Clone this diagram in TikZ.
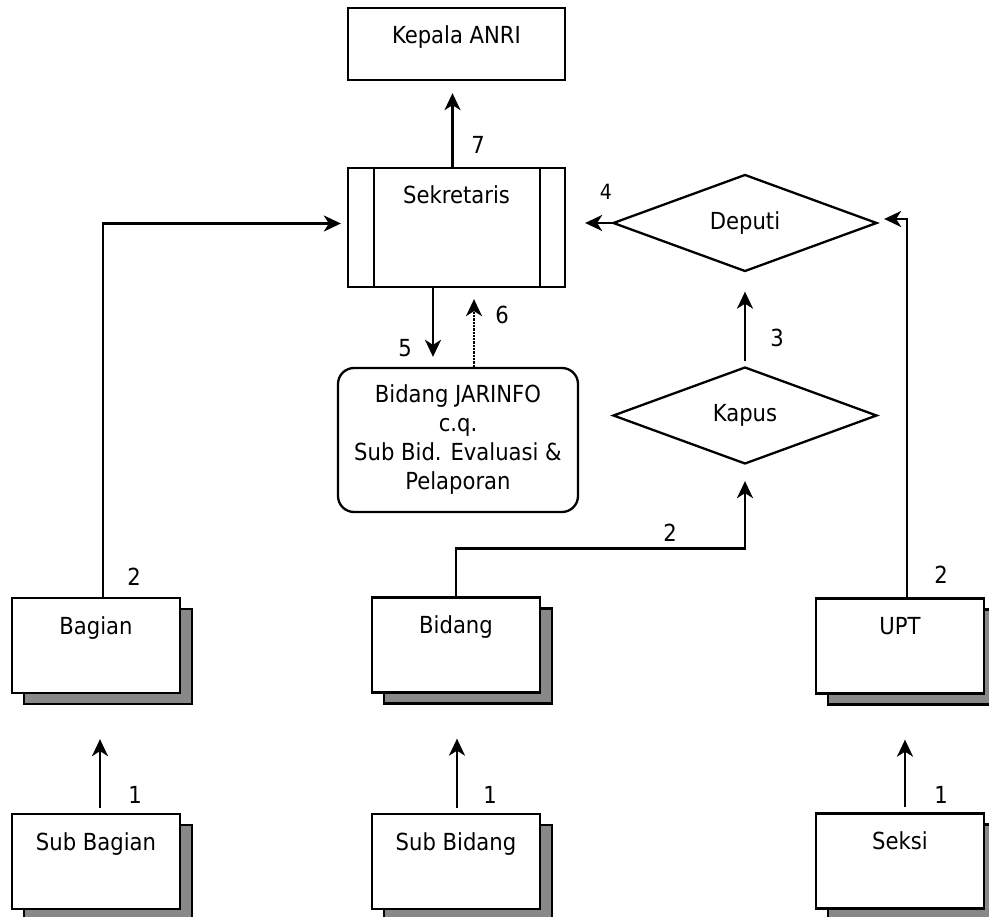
\documentclass[tikz,border=0pt]{standalone}
\usepackage{fontspec}
\setmainfont{DejaVu Sans Condensed}
\usetikzlibrary{shapes.geometric,arrows.meta,shadows}
\definecolor{shadowgray}{RGB}{136,136,136}
\tikzset{
	box/.style       = {draw, rectangle, inner ysep=0pt, text height=36pt,
		minimum width=217pt},
	shadowbox/.style = {draw, rectangle, fill=white, inner ysep=0pt,
		text height=36pt, text depth=59pt, minimum width=168pt,
		copy shadow={shadow xshift=12pt, shadow yshift=-11pt, fill=shadowgray, draw=black}},
	decision/.style  = {draw, diamond, inner sep=0pt, minimum width=264pt,
		minimum height=97pt},
	roundbox/.style  = {draw, rectangle, rounded corners=16pt, align=center,
		minimum width=240pt, minimum height=144pt},
	numlabel/.style  = {inner sep=0pt} % step numbers
}

\begin{document}
\begin{tikzpicture}[x=1pt, y=-1pt, line width=2.3pt,
	>={Stealth[length=17pt,width=16pt,inset=5pt]},
	font=\fontsize{23.5}{29}\selectfont]
	\useasboundingbox (0,0) rectangle (989,917);
	\clip (0,0) rectangle (989,917);
	
	\draw
	node at (456.5,44)[box, text depth=36pt] (kepala) {Kepala ANRI}
	node at (456.5,227.5)[box, text depth=83pt] (sekretaris) {Sekretaris}
	node at (458,440)[roundbox] (jarinfo) {Bidang JARINFO\\c.q.\\Sub Bid. Evaluasi \&\\Pelaporan}
	node at (745,223)[decision] (deputi) {Deputi}
	node at (745,415.5)[decision] (kapus) {Kapus}
	node at (96,645.5)[shadowbox] (bagian) {Bagian}
	node at (456,645)[shadowbox] (bidang) {Bidang}
	node at (900,646)[shadowbox] (upt) {UPT}
	node at (96,861.5)[shadowbox] (subbagian) {Sub Bagian}
	node at (456,861.5)[shadowbox] (subbidang) {Sub Bidang}
	node at (900,861)[shadowbox] (seksi) {Seksi}
	;
	
	\draw ([xshift=27pt]sekretaris.north west) -- ([xshift=27pt]sekretaris.south west);
	\draw ([xshift=-26pt]sekretaris.north east) -- ([xshift=-26pt]sekretaris.south east);
	
	\draw[->, shorten >=12pt] ([xshift=-4pt]sekretaris.north) -- ([xshift=-4pt]kepala.south);
	\draw[->, shorten >=19pt] (deputi.west) -- (deputi.west -| sekretaris.east);
	\draw[->, shorten <=5pt, shorten >=19pt] (kapus.north) -- (deputi.south);
	\draw[->, shorten >=10pt] ([xshift=-23.5pt]sekretaris.south) -- ([xshift=-23.5pt]sekretaris.south |- jarinfo.north);
	\draw[->, densely dotted, shorten >=11pt] ([xshift=16pt]jarinfo.north) -- ([xshift=16pt]jarinfo.north |- sekretaris.south);
	\draw[->, shorten >=6pt] ([xshift=7pt]bagian.north) |- ([yshift=4pt]sekretaris.west);
	\draw[->, shorten >=16pt] (bidang.north) -- ++(0,-48) -| (kapus.south);
	\draw[->, shorten >=6pt] ([xshift=7pt]upt.north) |- ([yshift=4pt]deputi.east);
	\draw[->, shorten <=5pt, shorten >=45pt] ([xshift=4pt]subbagian.north) -- ([xshift=4pt]bagian.south);
	\draw[->, shorten <=5pt, shorten >=45pt] ([xshift=1pt]subbidang.north) -- ([xshift=1pt]bidang.south);
	\draw[->, shorten <=5pt, shorten >=45pt] ([xshift=5pt]seksi.north) -- ([xshift=5pt]upt.south);
	
	\draw
	node at (478,145)[numlabel] (n7) {7}
	node at (606,192)[numlabel, font=\fontsize{21}{25}\selectfont] (n4) {4}
	node at (777,338)[numlabel] (n3) {3}
	node at (405,348)[numlabel] (n5) {5}
	node at (502,315)[numlabel] (n6) {6}
	node at (134,577)[numlabel] (n2a) {2}
	node at (670,533)[numlabel] (n2b) {2}
	node at (941,575)[numlabel] (n2c) {2}
	node at (135,795)[numlabel] (n1a) {1}
	node at (490,795)[numlabel] (n1b) {1}
	node at (941,795)[numlabel] (n1c) {1}
	;
\end{tikzpicture}
\end{document}
